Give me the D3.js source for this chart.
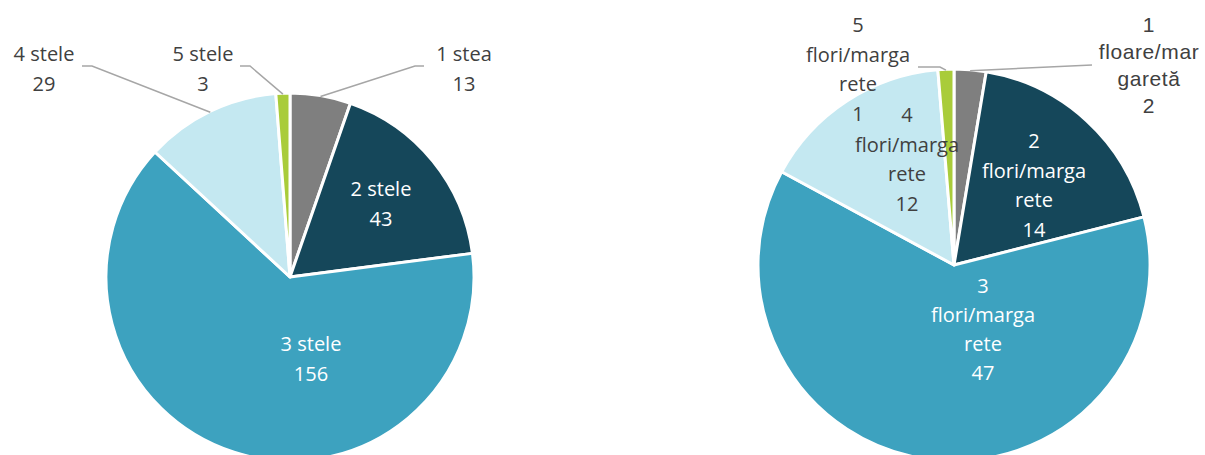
<!DOCTYPE html>
<html><head><meta charset="utf-8">
<script src="https://cdn.jsdelivr.net/npm/d3@7"></script>
<style>html,body{margin:0;padding:0;background:#fff;overflow:hidden}</style>
</head><body>
<svg id="chart" width="1205" height="455"></svg>
<script>
// ---- data ----
const colors = ["#7F7F7F", "#15475A", "#3DA2BF", "#C4E8F1", "#A9CC3A"];
const leftCategories = ["1 stea", "2 stele", "3 stele", "4 stele", "5 stele"];
const leftValues = [13, 43, 156, 29, 3];
const rightCategories = [["1", "floare/mar", "garetă"], ["2", "flori/marga", "rete"], ["3", "flori/marga", "rete"], ["4", "flori/marga", "rete"], ["5", "flori/marga", "rete"]];
const rightValues = [2, 14, 47, 12, 1];

const svg = d3.select("#chart");
const calib = "'Open Sans', sans-serif";

function drawPie(cfg) {
  const g = svg.append("g").attr("transform", `translate(${cfg.cx},${cfg.cy})`);
  const pie = d3.pie().sort(null).value(d => d);
  const arcs = pie(cfg.values);
  const arc = d3.arc().innerRadius(0).outerRadius(cfg.r);
  g.selectAll("path").data(arcs).join("path")
    .attr("d", arc)
    .attr("fill", (d, i) => colors[i])
    .attr("stroke", "#fff").attr("stroke-width", 3).attr("stroke-linejoin", "round");

  const edge = d3.arc().innerRadius(cfg.r - 1).outerRadius(cfg.r - 1);
  cfg.labels.forEach(L => {
    const a = arcs[L.i];
    if (L.leader) {
      const m = (a.startAngle + a.endAngle) / 2;
      const px = (cfg.r - 1) * Math.sin(m), py = -(cfg.r - 1) * Math.cos(m);
      const pts = L.leader.map(p => [p[0] - cfg.cx, p[1] - cfg.cy]).concat([[px, py]]);
      g.append("path").attr("d", d3.line()(pts))
        .attr("fill", "none").attr("stroke", "#A6A6A6").attr("stroke-width", 1.5);
    }
    const t = svg.append("text")
      .attr("text-anchor", "middle")
      .attr("font-family", L.font || calib)
      .attr("font-size", L.size || 20)
      .attr("fill", L.color || "#404040");
    if (L.ls) t.attr("letter-spacing", L.ls);
    L.lines.forEach((s, k) => {
      t.append("tspan").attr("x", L.x).attr("y", L.y + k * L.dy).text(s);
    });
  });
}

drawPie({
  cx: 290, cy: 277, r: 184, values: leftValues,
  labels: [
    {i: 0, lines: [leftCategories[0], String(leftValues[0])], x: 464, y: 61, dy: 30, leader: [[424, 66], [415, 66]]},
    {i: 1, lines: [leftCategories[1], String(leftValues[1])], x: 381, y: 196, dy: 30, color: "#fff"},
    {i: 2, lines: [leftCategories[2], String(leftValues[2])], x: 311, y: 351, dy: 30, color: "#fff"},
    {i: 3, lines: [leftCategories[3], String(leftValues[3])], x: 44, y: 61, dy: 30, leader: [[82, 66], [92, 66]]},
    {i: 4, lines: [leftCategories[4], String(leftValues[4])], x: 203, y: 61, dy: 30, leader: [[240, 66], [250, 66]]}
  ]
});

drawPie({
  cx: 954, cy: 265, r: 196, values: rightValues,
  labels: [
    {i: 0, lines: rightCategories[0].concat([String(rightValues[0])]), x: 1149, y: 32, dy: 27, font: "'Liberation Sans', Arial, sans-serif", size: 21, ls: 0.6, leader: [[1092, 65]]},
    {i: 1, lines: rightCategories[1].concat([String(rightValues[1])]), x: 1034, y: 148, dy: 29.5, color: "#fff"},
    {i: 2, lines: rightCategories[2].concat([String(rightValues[2])]), x: 983, y: 293, dy: 29, color: "#fff"},
    {i: 3, lines: rightCategories[3].concat([String(rightValues[3])]), x: 907, y: 122, dy: 29.5},
    {i: 4, lines: rightCategories[4].concat([String(rightValues[4])]), x: 858, y: 32, dy: 29.5, leader: [[918, 67], [940, 67]]}
  ]
});
</script>
</body></html>
